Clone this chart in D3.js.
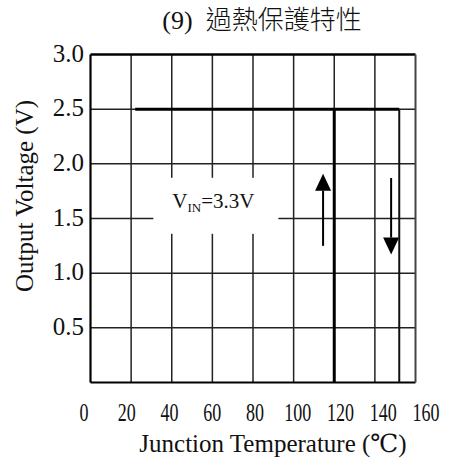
<!DOCTYPE html>
<html>
<head>
<meta charset="utf-8">
<script src="https://cdn.jsdelivr.net/npm/d3@7/dist/d3.min.js"></script>
<style>
  html, body { margin: 0; padding: 0; background: #fff; }
  svg { display: block; }
  .serif { font-family: "Liberation Serif", "DejaVu Serif", serif; fill: #111; }
</style>
</head>
<body>
<svg id="chart" width="457" height="459"></svg>
<script>
// Temperature axis (°C) and voltage axis (V)
const tempTicks = [0, 20, 40, 60, 80, 100, 120, 140, 160];
const voltTicks = [0.5, 1.0, 1.5, 2.0, 2.5, 3.0];
const voltTickLabels = ["0.5", "1.0", "1.5", "2.0", "2.5", "3.0"];

// Output voltage while heating: holds 2.5 V until shutdown, then drops to 0
const heatingTemp = [22, 152, 152];
const heatingVolt = [2.5, 2.5, 0];
// Output recovers to 2.5 V while cooling
const coolingTemp = [120, 120];
const coolingVolt = [0, 2.5];

// Direction arrows: [temperature, from voltage, to voltage]
const arrows = [
  [114.5, 1.25, 1.91],
  [148, 1.87, 1.17]
];

const titleSerif = "(9)\u00A0\u00A0";
const titleCJK = "過熱保護特性";
const xTitle = "Junction Temperature (℃)";
const yTitle = "Output Voltage (V)";
const vinLabel = { temp: 60, volt: 1.68, text: "=3.3V" };

const svg = d3.select("#chart");

const x = d3.scaleLinear().domain([0, 160]).range([90.5, 415.5]);
const y = d3.scaleLinear().domain([0, 3]).range([382.5, 54.5]);
// tick label positions along the temperature axis
const xLab = d3.scaleLinear().domain([0, 160]).range([84, 426]);

// grid
const grid = svg.append("g");
grid.selectAll("line.v").data(tempTicks.slice(1, -1)).join("line")
  .attr("x1", d => x(d)).attr("x2", d => x(d))
  .attr("y1", y(3)).attr("y2", y(0))
  .attr("stroke", "#222").attr("stroke-width", 1.5);
grid.selectAll("line.h").data(voltTicks.slice(0, -1)).join("line")
  .attr("x1", x(0)).attr("x2", x(160))
  .attr("y1", d => y(d)).attr("y2", d => y(d))
  .attr("stroke", "#222").attr("stroke-width", 1.5);

// frame
svg.append("line").attr("x1", x(0)).attr("x2", x(160)).attr("y1", y(3)).attr("y2", y(3))
  .attr("stroke", "#000").attr("stroke-width", 2.6);
svg.append("line").attr("x1", x(0)).attr("x2", x(160)).attr("y1", y(0)).attr("y2", y(0))
  .attr("stroke", "#000").attr("stroke-width", 2.2);
svg.append("line").attr("x1", x(0)).attr("x2", x(0)).attr("y1", y(3)).attr("y2", y(0))
  .attr("stroke", "#000").attr("stroke-width", 2.2);
svg.append("line").attr("x1", x(160)).attr("x2", x(160)).attr("y1", y(3)).attr("y2", y(0))
  .attr("stroke", "#444").attr("stroke-width", 2);

// V_IN label on a white panel
const lx = x(vinLabel.temp), ly = y(vinLabel.volt);
svg.append("rect")
  .attr("x", lx - 59).attr("y", ly - 21)
  .attr("width", 125).attr("height", 56)
  .attr("fill", "#fff");
const vin = svg.append("text").attr("class", "serif")
  .attr("x", lx + 1).attr("y", ly + 9)
  .attr("text-anchor", "middle")
  .style("font-size", "21px");
vin.append("tspan").text("V");
vin.append("tspan").attr("dy", 4).style("font-size", "13px").text("IN");
vin.append("tspan").attr("dy", -4).text(vinLabel.text);

// response curves
const line = d3.line().x(d => x(d[0])).y(d => y(d[1]));
svg.append("path")
  .attr("d", line(d3.zip(heatingTemp.slice(0, 2), heatingVolt.slice(0, 2))))
  .attr("fill", "none").attr("stroke", "#000").attr("stroke-width", 3);
svg.append("path")
  .attr("d", line(d3.zip(heatingTemp.slice(1), heatingVolt.slice(1))))
  .attr("fill", "none").attr("stroke", "#111").attr("stroke-width", 2);
svg.append("path")
  .attr("d", line(d3.zip(coolingTemp, coolingVolt)))
  .attr("fill", "none").attr("stroke", "#000").attr("stroke-width", 3);

// arrows
arrows.forEach(([t, v0, v1]) => {
  const ax = x(t), y0 = y(v0), y1 = y(v1);
  const dir = Math.sign(y1 - y0);
  const head = 17, half = 8;
  svg.append("line")
    .attr("x1", ax).attr("x2", ax)
    .attr("y1", y0).attr("y2", y1 - dir * head)
    .attr("stroke", "#000").attr("stroke-width", 2);
  svg.append("path")
    .attr("d", `M${ax},${y1} L${ax - half},${y1 - dir * head} L${ax + half},${y1 - dir * head} Z`)
    .attr("fill", "#000");
});

// tick labels
svg.append("g").selectAll("text").data(voltTicks).join("text")
  .attr("class", "serif")
  .attr("x", 84).attr("y", d => y(d) + 7)
  .attr("text-anchor", "end")
  .style("font-size", "25px")
  .text((d, i) => voltTickLabels[i]);

svg.append("g").selectAll("text").data(tempTicks).join("text")
  .attr("class", "serif")
  .attr("transform", d => `translate(${xLab(d)},421) scale(0.72,1)`)
  .attr("text-anchor", "middle")
  .style("font-size", "25px")
  .text(d => d);

// axis titles
svg.append("text").attr("class", "serif")
  .attr("x", 273).attr("y", 452)
  .attr("text-anchor", "middle")
  .style("font-size", "25px")
  .text(xTitle);

svg.append("text").attr("class", "serif")
  .attr("transform", "translate(33,196) rotate(-90)")
  .attr("text-anchor", "middle")
  .style("font-size", "25px")
  .text(yTitle);

// chart title
const title = svg.append("text")
  .attr("x", 262).attr("y", 29)
  .attr("text-anchor", "middle")
  .style("font-size", "26px")
  .style("fill", "#111");
title.append("tspan").style("font-family", "'Liberation Serif', serif").text(titleSerif);
title.append("tspan").style("font-family", "'Noto Sans CJK TC', sans-serif").style("font-weight", 300).text(titleCJK);
</script>
</body>
</html>
